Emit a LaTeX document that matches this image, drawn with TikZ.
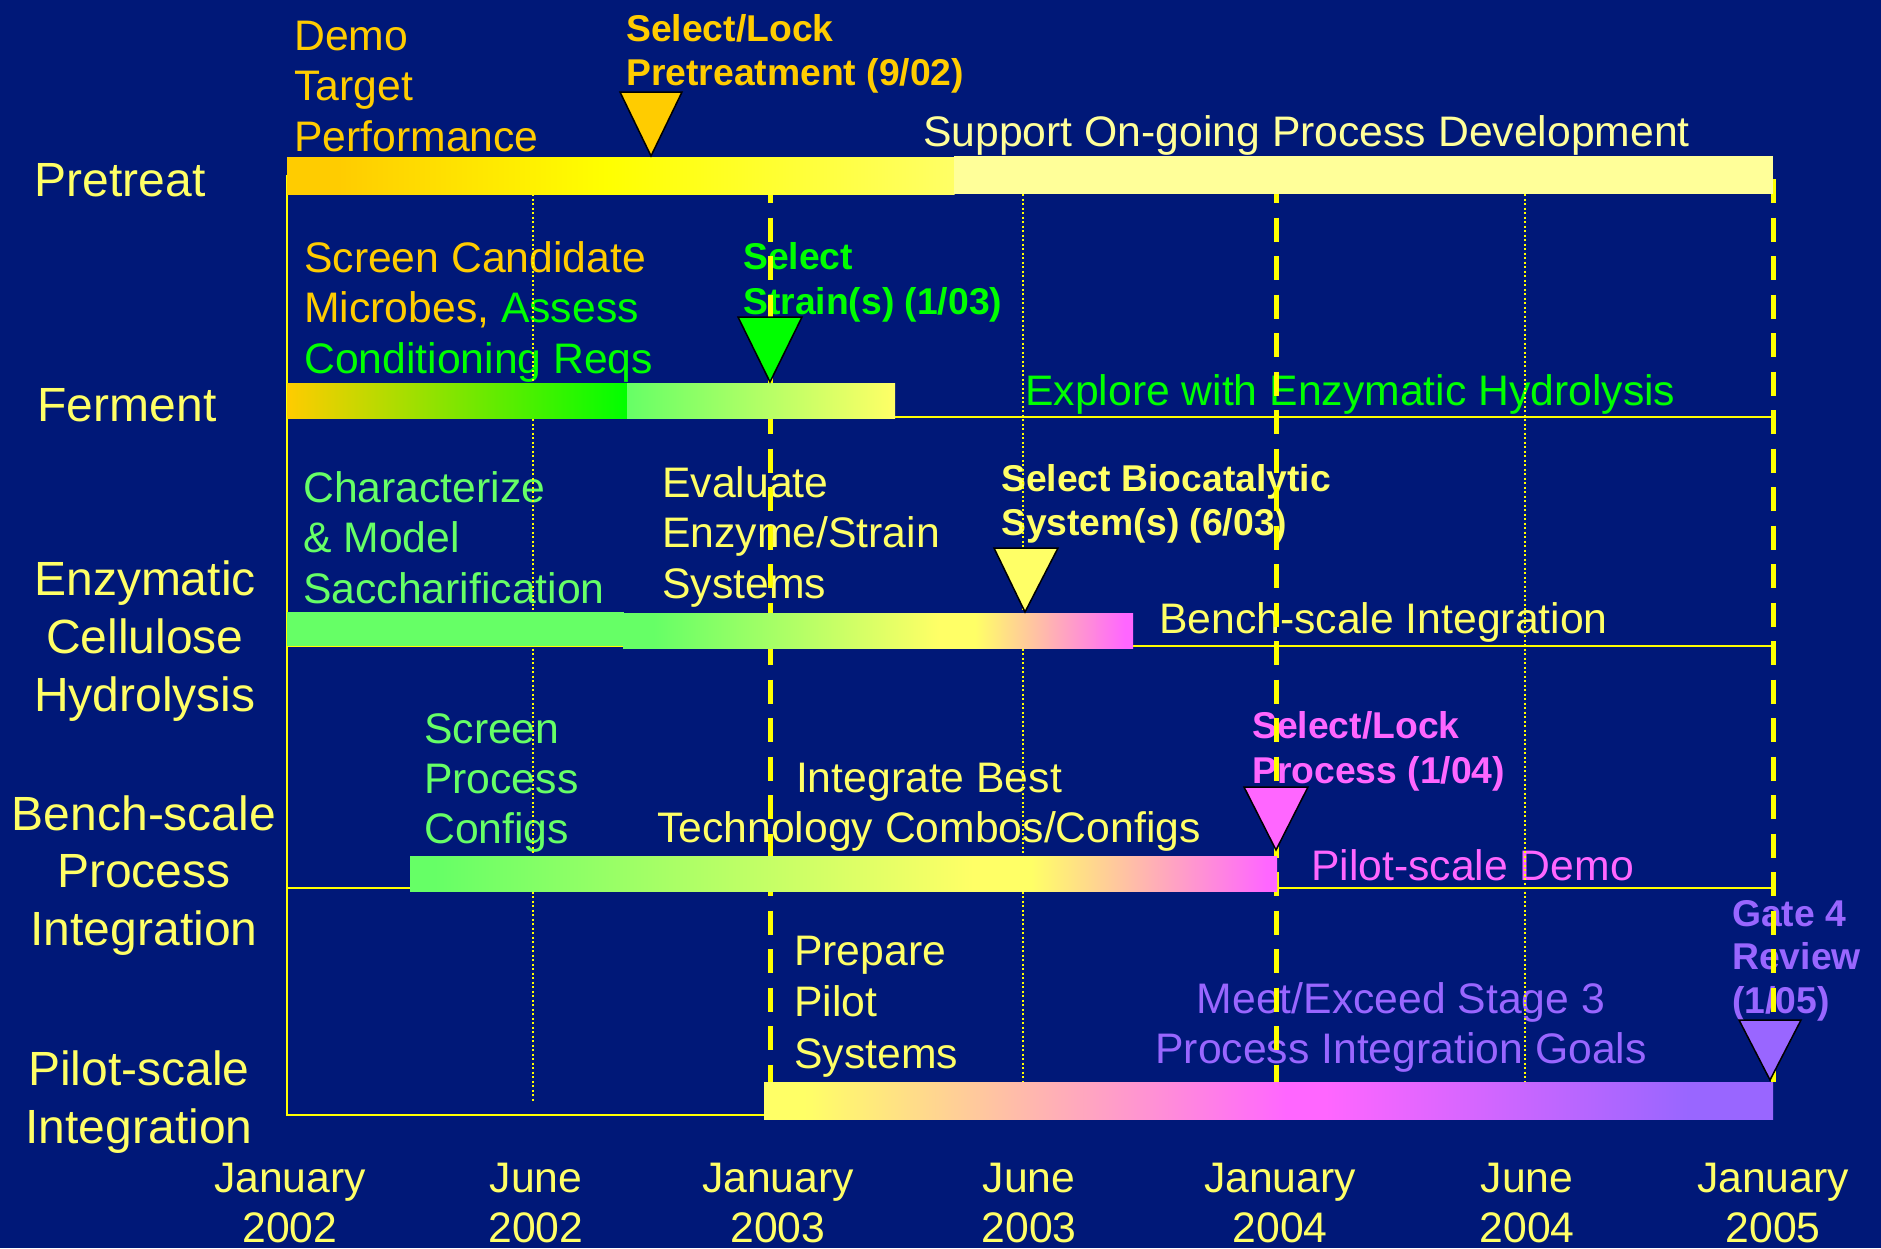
\documentclass[tikz,border=0pt]{standalone}
\usepackage{fontspec}
\setmainfont{Liberation Sans}
\definecolor{bg}{RGB}{0,24,120}
\definecolor{lyel}{HTML}{FFFF66}
\definecolor{pyel}{HTML}{FFFF99}
\definecolor{yel}{HTML}{FFFF00}
\definecolor{org}{HTML}{FFCC00}
\definecolor{grn}{HTML}{00FF00}
\definecolor{lgrn}{HTML}{66FF66}
\definecolor{pnk}{HTML}{FF66FF}
\definecolor{prp}{HTML}{9966FF}
\pgfdeclarehorizontalshading{preS}{100bp}{color(0bp)=(org); color(25bp)=(org); color(28.8bp)=(org); color(48.9bp)=(yel); color(75bp)=(lyel); color(100bp)=(lyel)}
\pgfdeclarehorizontalshading{enzR}{100bp}{color(0bp)=(lgrn); color(25bp)=(lgrn); color(28.04bp)=(lgrn); color(55.98bp)=(lyel); color(59.51bp)=(lyel); color(74.2bp)=(pnk); color(100bp)=(pnk)}
\pgfdeclarehorizontalshading{benchS}{100bp}{color(0bp)=(lgrn); color(25bp)=(lgrn); color(26.4bp)=(lgrn); color(57.5bp)=(lyel); color(60.8bp)=(lyel); color(74.4bp)=(pnk); color(100bp)=(pnk)}
\pgfdeclarehorizontalshading{pilotS}{100bp}{color(0bp)=(lyel); color(25bp)=(lyel); color(27bp)=(lyel); color(50.87bp)=(pnk); color(52.85bp)=(pnk); color(70.8bp)=(prp); color(100bp)=(prp)}
\newcommand\myst{\rule{0pt}{0.8em}}
\begin{document}
\begin{tikzpicture}[x=1pt,y=-1pt,
 lbl/.style={inner sep=0pt, align=left, anchor=north west, font=\fontsize{42.7}{50.5}\selectfont},
 clbl/.style={inner sep=0pt, align=center, anchor=north, font=\fontsize{42.7}{50}\selectfont},
 bld/.style={inner sep=0pt, align=left, anchor=north west, font=\bfseries\fontsize{37.3}{44}\selectfont},
 rowlbl/.style={inner sep=0pt, align=center, anchor=north, text=lyel, font=\fontsize{48}{58}\selectfont},
 datelbl/.style={inner sep=0pt, align=center, anchor=north, text=lyel, font=\fontsize{42.7}{50}\selectfont},
 gridline/.style={draw=yel, line width=2.5pt},
 dotline/.style={draw=yel, line width=1.2pt, dash pattern=on 2pt off 2.5pt},
 dashline/.style={draw=yel, line width=5pt, dash pattern=on 24pt off 14.5pt},
 milestone/.style={draw=black, line width=1.5pt, line join=miter}]
\useasboundingbox (0,0) rectangle (1881,1248);
\fill[bg] (0,0) rectangle (1881,1248);

% ---- row labels
\node[rowlbl] (rPre) at (120,157.6) {\myst Pretreat};
\node[rowlbl] (rFer) at (127,382.6) {\myst Ferment};
\node[rowlbl] (rEnz) at (145,556.6) {\myst Enzymatic\\Cellulose\\Hydrolysis};
\node[rowlbl, font=\fontsize{48}{57.5}\selectfont] (rBen) at (144,791.6) {\myst Bench-scale\\Process\\Integration};
\node[rowlbl] (rPil) at (139,1046.6) {\myst Pilot-scale\\Integration};

% ---- dates
\node[datelbl] (d1) at (290,1157.8) {\myst January\\2002};
\node[datelbl] (d2) at (536,1157.8) {\myst June\\2002};
\node[datelbl] (d3) at (778,1157.8) {\myst January\\2003};
\node[datelbl] (d4) at (1029,1157.8) {\myst June\\2003};
\node[datelbl] (d5) at (1280,1157.8) {\myst January\\2004};
\node[datelbl] (d6) at (1527,1157.8) {\myst June\\2004};
\node[datelbl] (d7) at (1773,1157.8) {\myst January\\2005};

% ---- activity texts
\node[lbl, text=org] (demo) at (294,15.8) {\myst Demo\\Target\\Performance};
\node[bld, text=org] (selpre) at (626,11.2) {\myst Select/Lock\\Pretreatment (9/02)};
\node[lbl, text=pyel] (support) at (923,111.8) {\myst Support On-going Process Development};

\node[lbl, text=org] (screencand) at (304,237.8) {\myst Screen Candidate\\Microbes, {\color{grn}Assess}\\{\color{grn}Conditioning Reqs}};
\node[bld, text=grn, font=\bfseries\fontsize{37.3}{45}\selectfont] (selstrain) at (743,239.2) {\myst Select\\Strain(s) (1/03)};
\node[lbl, text=grn] (explore) at (1025,370.8) {\myst Explore with Enzymatic Hydrolysis};

\node[lbl, text=lgrn] (charact) at (303,467.8) {\myst Characterize\\\& Model\\Saccharification};
\node[lbl, text=lyel] (evaluate) at (662,462.8) {\myst Evaluate\\Enzyme/Strain\\Systems};
\node[bld, text=lyel] (selbio) at (1001,461.2) {\myst Select Biocatalytic\\System(s) (6/03)};
\node[lbl, text=lyel] (benchint) at (1159,598.8) {\myst Bench-scale Integration};

\node[lbl, text=lgrn, font=\fontsize{42.7}{50}\selectfont] (screenproc) at (424,708.8) {\myst Screen\\Process\\Configs};
\node[clbl, text=lyel] (integrate) at (929,757.8) {\myst Integrate Best\\Technology Combos/Configs};
\node[bld, text=pnk, font=\bfseries\fontsize{37.3}{45}\selectfont] (selproc) at (1252,708.2) {\myst Select/Lock\\Process (1/04)};
\node[lbl, text=pnk] (pilotdemo) at (1311,845.8) {\myst Pilot-scale Demo};

\node[lbl, text=lyel, font=\fontsize{42.7}{51.5}\selectfont] (prepare) at (794,930.8) {\myst Prepare\\Pilot\\Systems};
\node[clbl, text=prp] (meet) at (1401,978.8) {\myst Meet/Exceed Stage 3\\Process Integration Goals};
\node[bld, text=prp, font=\bfseries\fontsize{37.3}{43.5}\selectfont] (gate) at (1732,896.2) {\myst Gate 4\\Review\\(1/05)};

% ---- grid
\draw[gridline] (287,175) -- (287,1115) -- (1773,1115);
\draw[gridline] (287,417) -- (1773,417);
\draw[gridline] (287,646) -- (1773,646);
\draw[gridline] (287,888) -- (1773,888);
\foreach \xx in {533,1023,1525} \draw[dotline] (\xx,194) -- (\xx,1102);
\foreach \xx in {770,1276,1773} \draw[dashline] (\xx,179) -- (\xx,1082);

% ---- bars
% Pretreat
\shade[shading=preS] (287,157) rectangle (954.5,194);
\fill[pyel] (954,156) rectangle (1773,194);
% Ferment
\shade[left color=org, right color=grn] (287,383) rectangle (627.5,418);
\shade[left color=lgrn, right color=lyel] (627,383) rectangle (895,418);
% Enzymatic
\fill[lgrn] (287,612) rectangle (623.5,646);
\shade[shading=enzR] (623,613) rectangle (1133,648);
% Bench
\shade[shading=benchS] (410,856) rectangle (1277,891);
% Pilot
\shade[shading=pilotS] (764,1082) rectangle (1773,1119);

% ---- milestones
\draw[milestone, fill=org] (620,92) -- (682,92) -- (651,156) -- cycle;
\draw[milestone, fill=grn] (738,317) -- (802,317) -- (770,382) -- cycle;
\draw[milestone, fill=lyel] (994,548) -- (1058,548) -- (1025,612) -- cycle;
\draw[milestone, fill=pnk] (1244,787) -- (1308,787) -- (1276,850) -- cycle;
\draw[milestone, fill=prp] (1739,1020) -- (1801,1020) -- (1770,1080) -- cycle;
\end{tikzpicture}
\end{document}
